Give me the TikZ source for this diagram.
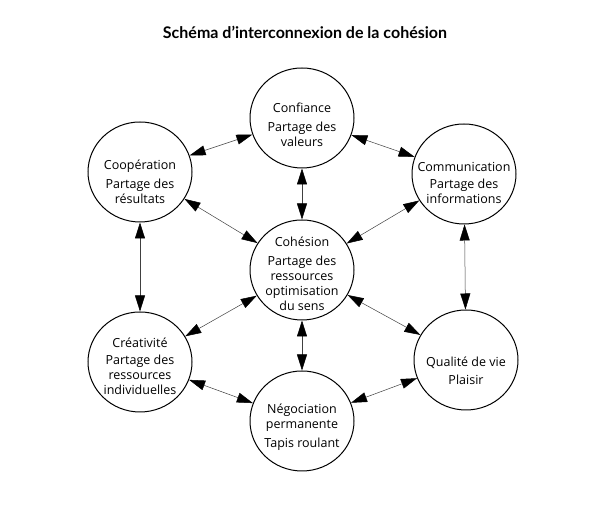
\documentclass[tikz,border=0pt]{standalone}
\usepackage{fontspec}
\setmainfont{Open Sans}
\newfontfamily\titrefont{Lato}
\usetikzlibrary{arrows.meta,shapes.geometric}
\tikzset{
	bulle/.style={ellipse, draw, line width=1pt, minimum width=104pt, minimum height=100pt, inner sep=0pt},
	texte/.style={align=center, inner sep=0pt, font=\fontsize{12.5}{15}\selectfont},
	pointe/.tip={Triangle[length=16pt,width=10pt,color=black]},
	fleche/.style={pointe-pointe, line width=0.5pt, draw=black!75},
}
\begin{document}
\begin{tikzpicture}[x=1pt,y=1pt]
	%%%%% START %%%%%
	
	\useasboundingbox (0,0) rectangle (614,526);
	
	\node[font=\titrefont\bfseries\fontsize{16}{18}\selectfont] (titre) at (305,494) {Schéma d’interconnexion de la cohésion};
	
	\node[bulle, label={[texte, yshift=-7pt]center:{Confiance\\[4pt]Partage des\\valeurs}}] (confiance) at (302,408) {};
	\node[bulle, label={[texte, yshift=-10pt]center:{Coopération\\[4pt]Partage des\\résultats}}] (coop) at (140,354) {};
	\node[bulle, label={[texte, yshift=-9pt]center:{Communication\\[2pt]Partage des\\informations}}] (comm) at (464,352) {};
	\node[bulle, label={[texte, yshift=-4pt]center:{Cohésion\\[4pt]Partage des\\ressources\\optimisation\\du sens}}] (cohesion) at (302,256) {};
	\node[bulle, label={[texte, yshift=-4pt]center:{Créativité\\[2pt]Partage des\\ressources\\individuelles}}] (creat) at (140,164) {};
	\node[bulle, label={[texte, yshift=-11pt]center:{Qualité de vie\\[3pt]Plaisir}}] (qualite) at (466,166) {};
	\node[bulle, label={[texte, yshift=-6pt]center:{Négociation\\permanente\\[4pt]Tapis roulant}}] (nego) at (302,105) {};
	
	\draw[fleche] (coop) -- (confiance);
	\draw[fleche] (confiance) -- (comm);
	\draw[fleche] (confiance) -- (cohesion);
	\draw[fleche] (coop) -- (cohesion);
	\draw[fleche] (comm) -- (cohesion);
	\draw[fleche] (coop) -- (creat);
	\draw[fleche] (comm) -- (qualite);
	\draw[fleche] (cohesion) -- (creat);
	\draw[fleche] (cohesion) -- (nego);
	\draw[fleche] (cohesion) -- (qualite);
	\draw[fleche] (creat) -- (nego);
	\draw[fleche] (nego) -- (qualite);
	
	%%%%% END %%%%%
\end{tikzpicture}
\end{document}
